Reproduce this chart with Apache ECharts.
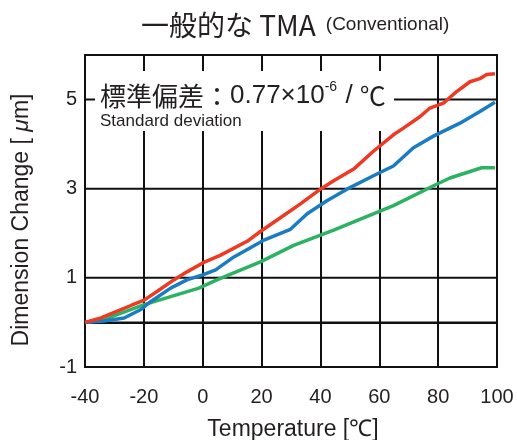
<!DOCTYPE html>
<html>
<head>
<meta charset="utf-8">
<script src="https://cdn.jsdelivr.net/npm/echarts@6/dist/echarts.min.js"></script>
<style>html,body{margin:0;padding:0;background:#fff;}#c{width:517px;height:440px;}</style>
</head>
<body>
<div id="c"></div>
<script>
var xTicks = [-40, -20, 0, 20, 40, 60, 80, 100];
var yTickLabels = [-1, 1, 3, 5];
var yGridValues = [0, 1, 3, 5];

var redTemp = [-40, -34.6, -28.4, -24.4, -19.9, -15.4, -9.7, -5.2, 0.2, 6.1, 15.1, 19.6, 27.5, 33.2, 40, 44.5, 51.3, 58, 64.8, 68.2, 73.9, 77.2, 81.8, 86.3, 90.8, 94.2, 96.5, 99.3];
var redVal  = [0, 0.10, 0.27, 0.38, 0.50, 0.70, 0.96, 1.14, 1.34, 1.51, 1.82, 2.04, 2.40, 2.66, 2.99, 3.18, 3.44, 3.84, 4.21, 4.36, 4.62, 4.81, 4.92, 5.18, 5.40, 5.47, 5.56, 5.58];

var blueTemp = [-40, -33.5, -26.7, -21.0, -17.6, -10.9, -5.2, 0.2, 4.4, 10.6, 20.6, 29.8, 35.5, 42.2, 49.0, 59.2, 64.8, 71.6, 78.4, 87.4, 94.2, 99.3];
var blueVal  = [0, 0.03, 0.10, 0.29, 0.47, 0.77, 0.96, 1.07, 1.18, 1.47, 1.84, 2.09, 2.44, 2.73, 2.99, 3.33, 3.51, 3.92, 4.18, 4.47, 4.73, 4.94];

var greenTemp = [-40, -33.5, -19.9, -10.9, -1.3, 5.0, 19.6, 30.9, 44.5, 59.2, 64.8, 79.5, 84.0, 94.8, 99.3];
var greenVal  = [0, 0.07, 0.40, 0.58, 0.77, 0.96, 1.36, 1.73, 2.07, 2.47, 2.62, 3.10, 3.24, 3.47, 3.47];

function pairs(xs, ys) { return xs.map(function (x, i) { return [x, ys[i]]; }); }

var TXT = '#231f20';
var FONT = '"Liberation Sans", Arial, sans-serif';
var CJK = '"Noto Sans CJK JP", "Liberation Sans", sans-serif';

var xMin = xTicks[0], xMax = xTicks[xTicks.length - 1];
var gridSeries = yGridValues.map(function (v) {
  return {
    type: 'line', name: 'h' + v, data: [[xMin - 1.5, v], [xMax, v]], z: 1, silent: true,
    showSymbol: false, clip: false, animation: false,
    lineStyle: {color: '#111', width: 2}, itemStyle: {color: '#111'}, emphasis: {disabled: true}
  };
});

var chart = echarts.init(document.getElementById('c'), null, {renderer: 'canvas'});
chart.setOption({
  animation: false,
  backgroundColor: '#fff',
  title: {
    text: '{a|一般的な TMA}  {b|(Conventional)}',
    left: 136,
    top: 6,
    textStyle: {
      fontWeight: 'normal',
      rich: {
        a: {fontSize: 28, fontFamily: CJK, color: TXT, fontWeight: 'normal'},
        b: {fontSize: 19, fontFamily: FONT, color: TXT, fontWeight: 'normal'}
      }
    }
  },
  grid: {
    left: 85, right: 20, top: 55, bottom: 73,
    outerBoundsMode: 'none', containLabel: false,
    show: true, borderColor: '#111', borderWidth: 2, backgroundColor: 'transparent'
  },
  xAxis: {
    type: 'value',
    min: -40, max: 100, interval: 20,
    name: 'Temperature [℃]',
    nameLocation: 'middle',
    nameGap: 51,
    nameTextStyle: {fontSize: 23, fontFamily: FONT, color: TXT, padding: [0, 0, 0, 4]},
    axisLine: {show: true, lineStyle: {color: '#111', width: 2}},
    axisTick: {show: false},
    axisLabel: {fontSize: 20, fontFamily: FONT, color: TXT, margin: 20},
    splitLine: {show: true, lineStyle: {color: '#111', width: 2}}
  },
  yAxis: {
    type: 'value',
    min: -1, max: 6, interval: 1,
    name: '{n|Dimension Change [ }{i|μ}{n|m]}',
    nameLocation: 'middle',
    nameGap: 52,
    nameTextStyle: {
      color: TXT,
      padding: [0, 18, 0, 0],
      rich: {
        n: {fontSize: 23, fontFamily: FONT, color: TXT},
        i: {fontSize: 23, fontFamily: FONT, color: TXT, fontStyle: 'italic'}
      }
    },
    axisLine: {show: true, lineStyle: {color: '#111', width: 2}},
    axisTick: {show: false},
    axisLabel: {fontSize: 20, fontFamily: FONT, color: TXT, margin: 8,
      formatter: function (val) { return yTickLabels.indexOf(val) >= 0 ? String(val) : ''; }},
    splitLine: {show: false}
  },
  graphic: [
    {type: 'rect', z: 2, silent: true,
      shape: {x: 95, y: 71, width: 299, height: 60},
      style: {fill: '#fff'}},
    {type: 'text', z: 2, silent: true, left: 100, top: 80,
      style: {
        text: '{c|標準偏差：}{m|0.77×10}{s|-6}{m| / }{c|℃}',
        rich: {
          c: {fontSize: 26, fontFamily: CJK, fill: TXT, color: TXT, lineHeight: 32},
          m: {fontSize: 26, fontFamily: FONT, fill: TXT, color: TXT, lineHeight: 32},
          s: {fontSize: 14, fontFamily: FONT, fill: TXT, color: TXT, verticalAlign: 'top', lineHeight: 32, padding: [0, 1, 14, 0]}
        }
      }},
    {type: 'text', z: 2, silent: true, left: 100, top: 113,
      style: {text: 'Standard deviation', font: '17px "Liberation Sans", Arial, sans-serif', fill: TXT}}
  ],
  series: gridSeries.concat([
    {type: 'line', name: 'red', data: pairs(redTemp, redVal), showSymbol: false, z: 5,
      lineStyle: {color: '#ee3a23', width: 3.5}, itemStyle: {color: '#ee3a23'}},
    {type: 'line', name: 'blue', data: pairs(blueTemp, blueVal), showSymbol: false, z: 4,
      lineStyle: {color: '#1a7cc1', width: 3.5}, itemStyle: {color: '#1a7cc1'}},
    {type: 'line', name: 'green', data: pairs(greenTemp, greenVal), showSymbol: false, z: 3,
      lineStyle: {color: '#2db264', width: 3.5}, itemStyle: {color: '#2db264'}}
  ])
});
</script>
</body>
</html>
